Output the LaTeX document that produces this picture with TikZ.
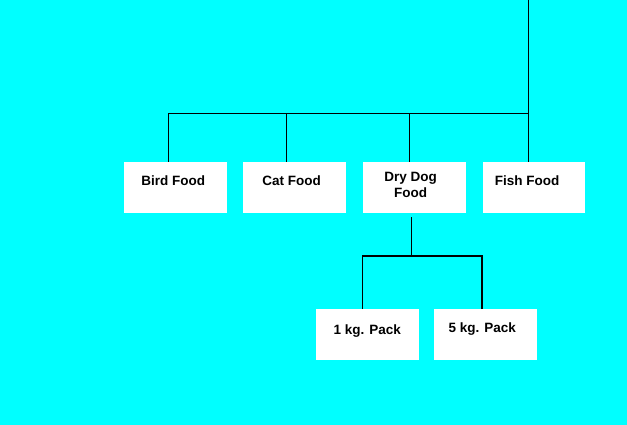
\documentclass[tikz,border=0pt]{standalone}
\usepackage{fontspec}
\setmainfont{Liberation Sans}
\usepackage{tikz}
\usetikzlibrary{calc}

\definecolor{aqua}{RGB}{0,255,255}

\tikzset{
  box/.style={fill=white, minimum width=102.5pt, minimum height=51pt, inner sep=0pt},
  tag/.style={anchor=north, inner sep=0pt, yshift=-14pt, align=center,
    font=\fontsize{13.5}{16.5}\selectfont\bfseries},
  wire/.style={line width=1.1pt}
}

\begin{document}
\begin{tikzpicture}[x=1pt,y=-1pt]
      \fill[aqua] (0,0) rectangle (627,425);
      \useasboundingbox (0,0) rectangle (627,425);
      % top row
      \node (bird) at (175.3,187.5) [box, label={[tag, xshift=-2pt]north:Bird Food}] {};
      \node (cat) at (294.7,187.5) [box, label={[tag, xshift=-3pt]north:Cat Food}] {};
      \node (dog) at (414.7,187.5) [box, label={[tag, xshift=-4pt, yshift=4pt]north:Dry Dog\\Food}] {};
      \node (fish) at (534.2,187.5) [box, label={[tag, xshift=-7pt]north:Fish Food}] {};
      % packs
      \node (one) at (367.3,334.7) [box, label={[tag, yshift=-1.5pt]north:1 kg. Pack}] {};
      \node (five) at (485.3,334.7) [box, label={[tag, xshift=-3pt, yshift=0.5pt]north:5 kg. Pack}] {};
      \coordinate (top) at (528.7,0);
      \coordinate (bus) at (528.7,113.3);
      \coordinate (split) at (411.7,256);
      \draw[wire] (top) -- (bus);
      \foreach \n/\dx in {bird/-7, cat/-8.4, dog/-5.4, fish/-5.5}
        \draw[wire] ([xshift=\dx pt]\n.north) |- (bus);
      \draw[wire] ([xshift=-3pt,yshift=-4pt]dog.south) -- (split);
      \foreach \n/\dx in {one/-4.6, five/-3.3}
        \draw[wire] ([xshift=\dx pt]\n.north) |- (split);
    \end{tikzpicture}
\end{document}
